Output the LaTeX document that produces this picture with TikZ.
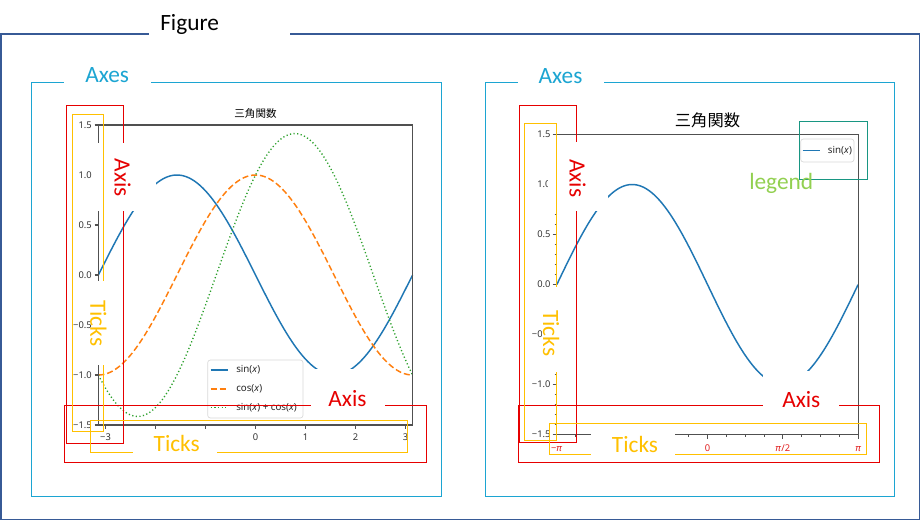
\documentclass[tikz,border=0pt]{standalone}
\usepackage{fontspec}
\setmainfont{Carlito}
\newfontfamily\plotfont{Noto Sans}
\newfontfamily\cjkfont{Noto Sans CJK JP}
\usetikzlibrary{fit}
\definecolor{figblue}{RGB}{55,90,150}
\definecolor{axcyan}{RGB}{28,165,210}
\definecolor{axred}{RGB}{230,0,0}
\definecolor{tkyellow}{RGB}{255,192,0}
\definecolor{lgteal}{RGB}{24,150,130}
\definecolor{lggreen}{RGB}{146,208,80}
\definecolor{mplblue}{RGB}{31,119,180}
\definecolor{mplorange}{RGB}{255,127,14}
\definecolor{mplgreen}{RGB}{44,160,44}
\definecolor{spinegray}{RGB}{80,80,80}
\definecolor{tickred}{RGB}{225,30,30}
\tikzset{
  bigtext/.style={font=\fontsize{17.5}{21}\selectfont, inner sep=0pt},
  mask/.style={fill=white, draw=none, inner sep=0pt},
  framefig/.style={draw=figblue, line width=0.85pt},
  frameaxes/.style={draw=axcyan, line width=0.7pt},
  boxaxis/.style={draw=axred, line width=0.7pt},
  boxticks/.style={draw=tkyellow, line width=0.7pt},
  boxlegend/.style={draw=lgteal, line width=0.7pt},
  spineline/.style={draw=spinegray, line width=0.8pt},
  ticklbl/.style={font=\plotfont\fontsize{7}{8}\selectfont, inner sep=0pt, text=black!80},
  legtext/.style={font=\plotfont\fontsize{7.3}{8}\selectfont, inner sep=0pt, text=black!85},
  legframe/.style={draw=black!15, fill=white, rounded corners=2pt, line width=0.5pt, inner sep=0pt},
  curve/.style={line width=1.1pt},
  dashedcurve/.style={curve, dash pattern=on 4.5pt off 2.2pt},
  dottedcurve/.style={curve, line width=1pt, dash pattern=on 0.9pt off 1.8pt},
}
\begin{document}
\begin{tikzpicture}[x=0.75pt,y=-0.75pt]
\useasboundingbox (0,0) rectangle (921,521);
\fill[white] (0,0) rectangle (921,521);

% ================= LEFT PLOT =================
\node[font=\cjkfont\fontsize{7.9}{9}\selectfont, inner sep=0pt] (ttlL) at (255.5,114) {三角関数};
\begin{scope}[shift={(255.5,275)}, xscale=50, yscale=-100]
  \draw[curve, mplblue] plot[domain=-3.14159:3.14159, samples=160, smooth] (\x,{-sin(\x r)});
  \draw[dashedcurve, mplorange] plot[domain=-3.14159:3.14159, samples=160, smooth] (\x,{cos(\x r)});
  \draw[dottedcurve, mplgreen] plot[domain=-3.14159:3.14159, samples=160, smooth] (\x,{sin(\x r)+cos(\x r)});
\end{scope}
\draw[spineline] (98.5,125) rectangle (412.6,425);
\foreach \v/\l in {1.5/1.5,1/1.0,0.5/0.5,0/0.0,-0.5/{−0.5},-1/{−1.0},-1.5/{−1.5}}{
  \draw[spineline] (94.5,{275-100*\v}) -- (98.5,{275-100*\v});
  \node[ticklbl, anchor=east] at (92,{275-100*\v}) {\l};
}
\foreach \k in {-3,...,3}{
  \draw[spineline] ({255.5+50*\k},425) -- ({255.5+50*\k},429);
}
\foreach \k/\l in {-3/{−3},0/0,1/1,2/2,3/3}{
  \node[ticklbl, anchor=base] at ({255.5+50*\k},440.5) {\l};
}
% legend
\node[legframe, fit={(207.7,360) (303,418)}] (legL) {};
\draw[curve, mplblue] (210.7,370) -- (228.3,370);
\node[legtext, anchor=west] (legL1) at (236,370) {sin(\textit{x})};
\draw[dashedcurve, mplorange] (210.7,389) -- (228.3,389);
\node[legtext, anchor=west] (legL2) at (236,389) {cos(\textit{x})};
\draw[dottedcurve, mplgreen] (210.7,407.7) -- (228.3,407.7);
\node[legtext, anchor=west] (legL3) at (236,407.7) {sin(\textit{x}) + cos(\textit{x})};

% ================= RIGHT PLOT =================
\node[font=\cjkfont\fontsize{12.2}{14}\selectfont, inner sep=0pt] (ttlR) at (707.5,120.5) {三角関数};
\begin{scope}[shift={(707.5,284.5)}, xscale=47.95, yscale=-100]
  \draw[curve, mplblue] plot[domain=-3.14159:3.14159, samples=160, smooth] (\x,{-sin(\x r)});
\end{scope}
\draw[spineline] (556.7,134.5) rectangle (858.2,434.5);
\foreach \i in {-15,...,15}{
  \draw[spineline, line width=0.6pt] (554.7,{284.5-10*\i}) -- (556.7,{284.5-10*\i});
}
\foreach \v/\l in {1.5/1.5,1/1.0,0.5/0.5,0/0.0,-0.5/{−0.5},-1/{−1.0},-1.5/{−1.5}}{
  \draw[spineline] (552.7,{284.5-100*\v}) -- (556.7,{284.5-100*\v});
  \node[ticklbl, anchor=east] at (550.7,{284.5-100*\v}) {\l};
}
\foreach \i in {-8,...,8}{
  \draw[spineline, line width=0.6pt] ({707.5+18.83*\i},434.5) -- ({707.5+18.83*\i},436.5);
}
\foreach \i in {-8,-4,0,4,8}{
  \draw[spineline] ({707.5+18.83*\i},434.5) -- ({707.5+18.83*\i},438.5);
}
\node[ticklbl, text=tickred, anchor=base] (xtR1) at (556.7,451) {−\textit{π}};
\node[ticklbl, text=tickred, anchor=base] (xtR2) at (707.5,451) {0};
\node[ticklbl, text=tickred, anchor=base] (xtR3) at (782.8,451) {\textit{π}/2};
\node[ticklbl, text=tickred, anchor=base] (xtR4) at (858.2,451) {\textit{π}};
% legend
\node[legframe, fit={(800.7,139) (854,162)}] (legR) {};
\draw[curve, mplblue] (802.7,150.7) -- (820,150.7);
\node[legtext, anchor=west] (legR1) at (827.7,150.7) {sin(\textit{x})};

% ================= ANNOTATIONS: Axis (red) =================
\draw[boxaxis] (66.7,105) rectangle (123.3,443.3);
\draw[boxaxis] (64.3,405.7) rectangle (426.7,462.3);
\draw[boxaxis] (519.7,105) rectangle (576,442.7);
\draw[boxaxis] (518.3,405.3) rectangle (879.3,462);
\node[mask, fit={(93,142.7) (156,211)}] (mAxLy) {};
\node[bigtext, text=axred, rotate=-90] (tAxLy) at (122.5,178) {Axis};
\node[mask, fit={(310.7,369) (385,416)}] (mAxLx) {};
\node[bigtext, text=axred, anchor=base] (tAxLx) at (347.5,406.7) {Axis};
\node[mask, fit={(548,141.7) (608,211)}] (mAxRy) {};
\node[bigtext, text=axred, rotate=-90] (tAxRy) at (577.5,178.3) {Axis};
\node[mask, fit={(763,371) (839,418)}] (mAxRx) {};
\node[bigtext, text=axred, anchor=base] (tAxRx) at (801.3,407.3) {Axis};

% ================= ANNOTATIONS: Ticks (yellow) =================
\draw[boxticks] (72.7,114.3) rectangle (103.3,431);
\draw[boxticks] (90,420.5) rectangle (407.7,452.7);
\draw[boxticks] (524.3,123.3) rectangle (556.7,440);
\draw[boxticks] (549.3,423.3) rectangle (866.7,454);
\node[mask, fit={(93,281) (116,365)}] (mTkLy) {};
\node[bigtext, text=tkyellow, rotate=-90] (tTkLy) at (98.5,323.3) {Ticks};
\node[mask, fit={(132.7,431) (216.7,459)}] (mTkLx) {};
\node[bigtext, text=tkyellow, anchor=base] (tTkLx) at (176.7,451.5) {Ticks};
\node[mask, fit={(542,287) (565,372)}] (mTkRy) {};
\node[bigtext, text=tkyellow, rotate=-90] (tTkRy) at (551.2,333.3) {Ticks};
\node[mask, fit={(591,428) (675,460)}] (mTkRx) {};
\node[bigtext, text=tkyellow, anchor=base] (tTkRx) at (635,452.7) {Ticks};

% ================= ANNOTATION: legend (teal) =================
\draw[boxlegend] (799,121) rectangle (867,179);
\node[bigtext, text=lggreen, anchor=base] (tLeg) at (781.2,189) {legend};

% ================= Axes frames (cyan) =================
\draw[frameaxes] (31,82) rectangle (441,496);
\node[mask, fit={(64,64) (151,92)}] (mAxesL) {};
\node[bigtext, text=axcyan, anchor=base] (tAxesL) at (107.2,82.5) {Axes};
\draw[frameaxes] (485,82.5) rectangle (894.5,496);
\node[mask, fit={(518,64) (604,92)}] (mAxesR) {};
\node[bigtext, text=axcyan, anchor=base] (tAxesR) at (560.5,83) {Axes};

% ================= Figure frame =================
\draw[framefig] (1,34) rectangle (919.5,519.5);
\node[mask, fit={(149,8) (290,40)}] (mFig) {};
\node[bigtext, anchor=base west] (tFig) at (160,31) {Figure};
\end{tikzpicture}
\end{document}
